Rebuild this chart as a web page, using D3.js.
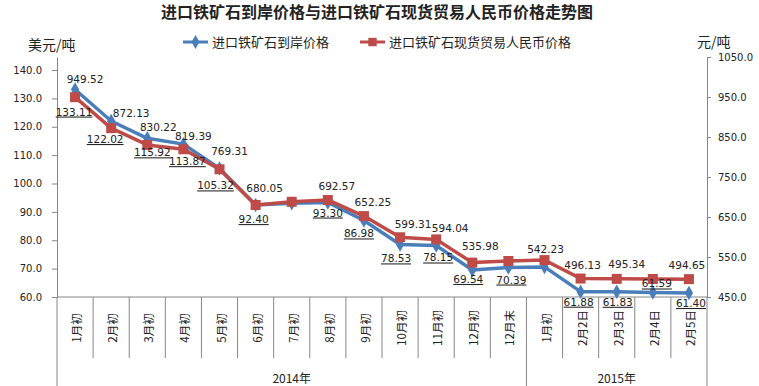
<html lang="zh">
<head>
<meta charset="utf-8">
<script src="https://d3js.org/d3.v7.min.js"></script>
<style>
  body { margin: 0; background: white; }
  text { font-family: "DejaVu Sans", sans-serif; fill: #222; }
  .cjk { font-family: "Noto Sans CJK SC", sans-serif; }
</style>
</head>
<body>
<svg id="chart" width="759" height="386"></svg>
<script>
  // categories and values
  const categories = ["1月初","2月初","3月初","4月初","5月初","6月初","7月初","8月初","9月初",
                      "10月初","11月初","12月初","12月末","1月初","2月2日","2月3日","2月4日","2月5日"];
  const years = [{name: "2014年", from: 0, to: 13}, {name: "2015年", from: 13, to: 18}];
  const usdPrice = [133.11,122.02,115.92,113.87,105.32,92.40,93.0,93.30,86.98,
                    78.53,78.15,69.54,70.39,70.6,61.88,61.83,61.59,61.40];
  const rmbPrice = [949.52,872.13,830.22,819.39,769.31,680.05,688,692.57,652.25,
                    599.31,594.04,535.98,540,542.23,496.13,495.34,495,494.65];
  const usdShown = [1,1,1,1,1,1,0,1,1,1,1,1,1,0,1,1,1,1];
  const rmbShown = [1,1,1,1,1,1,0,1,1,1,1,1,0,1,1,1,0,1];
  const leftTicks = [60,70,80,90,100,110,120,130,140];
  const rightTicks = [450,550,650,750,850,950,1050];

  // hand-placed label nudges, as in the source workbook
  const usdNudge = [[-1,22],[-6,18],[5,14],[4,17],[-4,17],[-2,14],null,[0,10],[-5,13],
                    [-4,14],[2,12],[-4,9],[3,12],null,[-2,10],[1,10],[4,-9],[2,10]];
  const rmbNudge = [[10,-18],[20,-15],[11,-18],[10,-13],[10,-18],[9,-17],null,[9,-14],[9,-14],
                    [13,-13],[14,-11],[8,-17],null,[1,-11],[2,-14],[10,-15],null,[-2,-14]];

  const svg = d3.select("#chart");
  const plotLeft = 57, plotRight = 707, plotTop = 57, plotBottom = 297;
  const axisColor = "#868686";
  const blue = "#4a7ebb", red = "#be4b48";

  const x = d3.scaleBand().domain(d3.range(categories.length)).range([plotLeft, plotRight]);
  const yL = d3.scaleLinear().domain([60, 60 + 80 * 240 / 227]).range([plotBottom, plotTop]);
  const yR = d3.scaleLinear().domain([450, 1050]).range([plotBottom, plotTop]);
  const cx = i => x(i) + x.bandwidth() / 2;

  // title
  svg.append("text").attr("class", "cjk")
    .attr("x", 377).attr("y", 18).attr("text-anchor", "middle")
    .style("font-size", "16px").style("font-weight", "bold")
    .text("进口铁矿石到岸价格与进口铁矿石现货贸易人民币价格走势图");

  // axis titles
  svg.append("text").attr("class", "cjk").attr("x", 28).attr("y", 50)
    .style("font-size", "14px").text("美元/吨");
  svg.append("text").attr("class", "cjk").attr("x", 697).attr("y", 47)
    .style("font-size", "14px").text("元/吨");

  // legend
  const legend = [{name: "进口铁矿石到岸价格", color: blue, x: 183, shape: d3.symbolDiamond},
                  {name: "进口铁矿石现货贸易人民币价格", color: red, x: 360, shape: d3.symbolSquare}];
  legend.forEach(l => {
    svg.append("line").attr("x1", l.x).attr("x2", l.x + 25).attr("y1", 42).attr("y2", 42)
      .attr("stroke", l.color).attr("stroke-width", 3);
    svg.append("path").attr("d", d3.symbol().type(l.shape).size(l.shape === d3.symbolSquare ? 70 : 55)())
      .attr("transform", "translate(" + (l.x + 12.5) + ",42)").attr("fill", l.color);
    svg.append("text").attr("class", "cjk").attr("x", l.x + 29).attr("y", 47)
      .style("font-size", "13px").text(l.name);
  });

  // axes
  const fmt = d3.format(".1f");
  const gL = svg.append("g").attr("transform", "translate(" + plotLeft + ",0)")
    .call(d3.axisLeft(yL).tickValues(leftTicks).tickFormat(fmt).tickSize(5).tickSizeOuter(0).tickPadding(10));
  const gR = svg.append("g").attr("transform", "translate(" + plotRight + ",0)")
    .call(d3.axisRight(yR).tickValues(rightTicks).tickFormat(fmt).tickSize(4).tickSizeOuter(0).tickPadding(7));
  [gL, gR].forEach(g => {
    g.select(".domain").attr("stroke", axisColor);
    g.selectAll(".tick line").attr("stroke", axisColor);
    g.selectAll(".tick text").style("font-family", "DejaVu Sans").style("font-size", "10px").attr("fill", "#222");
  });

  // category axis
  svg.append("line").attr("x1", plotLeft).attr("x2", plotRight).attr("y1", plotBottom).attr("y2", plotBottom)
    .attr("stroke", axisColor);
  const bounds = years.flatMap(y => [y.from, y.to]);
  d3.range(categories.length + 1).forEach(i => {
    const xx = i < categories.length ? x(i) : plotRight;
    svg.append("line").attr("x1", xx).attr("x2", xx).attr("y1", plotBottom)
      .attr("y2", bounds.includes(i) ? 386 : 358).attr("stroke", axisColor);
  });
  categories.forEach((c, i) => {
    svg.append("text").attr("class", "cjk")
      .attr("transform", "translate(" + (cx(i) + 1) + ",328) rotate(-90)")
      .attr("text-anchor", "middle").attr("dominant-baseline", "central")
      .style("font-size", "11.5px").text(c);
  });
  years.forEach(y => {
    svg.append("text").attr("class", "cjk")
      .attr("x", (x(y.from) + (y.to < categories.length ? x(y.to) : plotRight)) / 2).attr("y", 383)
      .attr("text-anchor", "middle").style("font-size", "12px").text(y.name);
  });

  // series
  const idx = d3.range(categories.length);
  const usdLine = d3.line().x(i => cx(i)).y(i => yL(usdPrice[i]));
  const rmbLine = d3.line().x(i => cx(i)).y(i => yR(rmbPrice[i]));

  svg.append("path").attr("d", usdLine(idx)).attr("fill", "none")
    .attr("stroke", blue).attr("stroke-width", 3.5).attr("stroke-linejoin", "round");
  svg.selectAll(".usd-mark").data(idx).enter().append("path")
    .attr("d", d3.symbol().type(d3.symbolDiamond).size(60)())
    .attr("transform", i => "translate(" + cx(i) + "," + yL(usdPrice[i]) + ")")
    .attr("fill", blue);

  svg.append("path").attr("d", rmbLine(idx)).attr("fill", "none")
    .attr("stroke", red).attr("stroke-width", 3.5).attr("stroke-linejoin", "round");
  svg.selectAll(".rmb-mark").data(idx).enter().append("rect")
    .attr("x", i => cx(i) - 5).attr("y", i => yR(rmbPrice[i]) - 5)
    .attr("width", 10).attr("height", 10).attr("fill", red);

  // data labels
  idx.filter(i => rmbShown[i]).forEach(i => {
    svg.append("text").attr("x", cx(i) + rmbNudge[i][0]).attr("y", yR(rmbPrice[i]) + rmbNudge[i][1] + 4)
      .attr("text-anchor", "middle").style("font-size", "10.5px").text(rmbPrice[i].toFixed(2));
  });
  idx.filter(i => usdShown[i]).forEach(i => {
    svg.append("text").attr("x", cx(i) + usdNudge[i][0]).attr("y", yL(usdPrice[i]) + usdNudge[i][1] + 4)
      .attr("text-anchor", "middle").style("font-size", "10.5px")
      .style("text-decoration", "underline").text(usdPrice[i].toFixed(2));
  });
</script>
</body>
</html>
